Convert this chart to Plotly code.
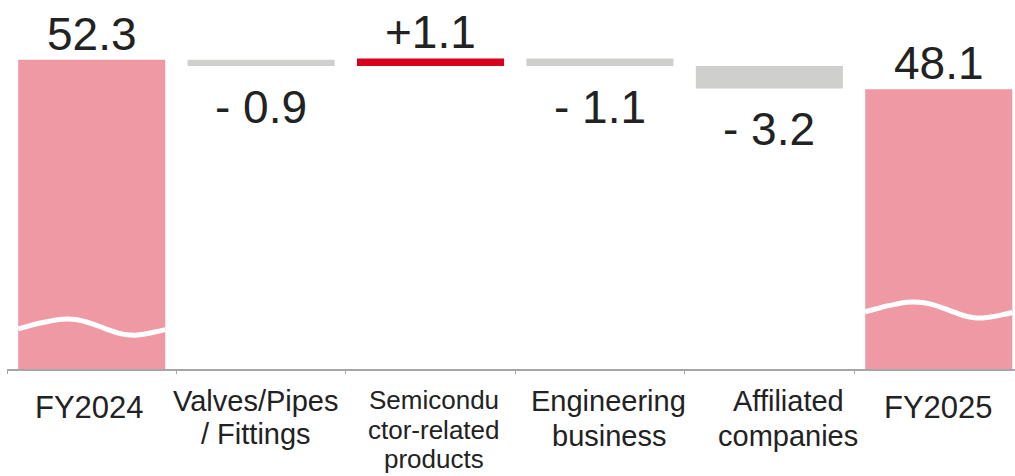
import plotly.graph_objects as go

# Operating result bridge, FY2024 -> FY2025 (billion yen)
categories = ["FY2024", "Valves/Pipes / Fittings", "Semiconductor-related products",
              "Engineering business", "Affiliated companies", "FY2025"]
label_lines = [["FY2024"], ["Valves/Pipes", "/ Fittings"], ["Semicondu", "ctor-related", "products"],
               ["Engineering", "business"], ["Affiliated", "companies"], ["FY2025"]]
values = [52.3, -0.9, 1.1, -1.1, -3.2, 48.1]
measures = ["absolute", "relative", "relative", "relative", "relative", "absolute"]

# styling
PINK = "#EF99A4"
RED = "#D7001F"
GRAY = "#CFCFCD"
TEXT = "#222222"
FONT = "Liberation Sans, Arial, sans-serif"
BAR_W = 0.868
Y_MIN, Y_MAX = 8.0, 60.87
PLOT_TOP, PLOT_H = 0, 369

label_sizes = [31, 29, 26, 29, 29, 31]
label_baselines = [[417], [410, 443], [408, 438, 467], [410, 445], [410, 445], [417]]
label_xshift = [-2, -5, 3, 9, 19, 0]

x = list(range(len(categories)))

fig = go.Figure()
fig.add_trace(go.Waterfall(
    x=x, y=values, measure=measures, width=BAR_W,
    increasing=dict(marker=dict(color=RED, line=dict(width=0))),
    decreasing=dict(marker=dict(color=GRAY, line=dict(width=0))),
    totals=dict(marker=dict(color=PINK, line=dict(width=0))),
    connector=dict(visible=False),
    textinfo="none", hoverinfo="skip", showlegend=False,
))

# running levels for label placement
tops, bottoms = [], []
level = 0.0
for v, m in zip(values, measures):
    if m == "absolute":
        lo, hi = 0.0, v
        level = v
    else:
        lo, hi = sorted([level, level + v])
        level += v
    bottoms.append(lo)
    tops.append(hi)

def value_text(v, m):
    if m == "absolute":
        return f"{v:.1f}"
    return f"+{v:.1f}" if v > 0 else f"- {abs(v):.1f}"

VAL_FS = 46
for xi, v, m, t, b in zip(x, values, measures, tops, bottoms):
    if m == "absolute" or v > 0:
        fig.add_annotation(x=xi, y=t, text=value_text(v, m), showarrow=False,
                           yanchor="bottom", yshift=-2,
                           font=dict(family=FONT, size=VAL_FS, color=TEXT))
    else:
        fig.add_annotation(x=xi, y=b, text=value_text(v, m), showarrow=False,
                           yanchor="top", yshift=-12.5,
                           font=dict(family=FONT, size=VAL_FS, color=TEXT))

# category labels, one annotation per line so the line spacing is controlled
for xi, lines, fs, bls, dx in zip(x, label_lines, label_sizes, label_baselines, label_xshift):
    for line, bl in zip(lines, bls):
        box_top = bl - 1 - 0.905 * fs
        fig.add_annotation(x=xi, y=0, yref="paper", text=line, showarrow=False,
                           yanchor="top", yshift=-(box_top - (PLOT_TOP + PLOT_H)),
                           xshift=dx,
                           font=dict(family=FONT, size=fs, color=TEXT))

# axis-break waves across the two total bars
wave_fx = [0.0, 0.07, 0.14, 0.21, 0.28, 0.33, 0.40, 0.47, 0.54, 0.61, 0.68, 0.74, 0.80, 0.87, 0.94, 1.0]
wave_dy = [-0.25, 0.15, 0.55, 0.85, 1.1, 1.15, 1.05, 0.7, 0.2, -0.35, -0.85, -1.1, -1.15, -0.95, -0.65, -0.35]
wave_centers = {0: 14.0, 5: 16.45}
for xi, yc in wave_centers.items():
    fig.add_trace(go.Scatter(
        x=[xi - BAR_W / 2 + f * BAR_W for f in wave_fx],
        y=[yc + d for d in wave_dy],
        mode="lines", line=dict(color="white", width=5, shape="spline", smoothing=1.0),
        hoverinfo="skip", showlegend=False,
    ))

fig.update_layout(
    width=1015, height=476,
    margin=dict(l=7, r=0, t=PLOT_TOP, b=476 - PLOT_H - PLOT_TOP),
    plot_bgcolor="white", paper_bgcolor="white",
    font=dict(family=FONT, color=TEXT),
    xaxis=dict(range=[-0.5, 5.45], showgrid=False, zeroline=False,
               showline=True, linecolor="#A6A6A6", linewidth=1.5,
               tickmode="array", tickvals=[i - 0.5 for i in range(7)],
               ticktext=[""] * 7, ticks="outside", ticklen=3,
               tickcolor="#A6A6A6", tickwidth=1),
    yaxis=dict(range=[Y_MIN, Y_MAX], visible=False, showgrid=False, zeroline=False),
)

fig.write_html("out.html")
